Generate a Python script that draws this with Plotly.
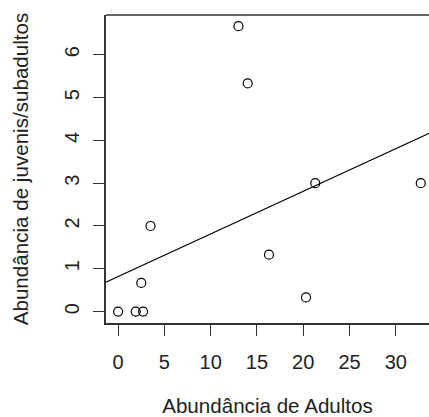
import plotly.graph_objects as go

# Abundance of adults vs. abundance of juveniles/subadults per sample
adultos = [0, 1.9, 2.7, 2.5, 3.5, 13, 14, 16.3, 20.3, 21.3, 32.7]
juvenis = [0, 0, 0, 0.67, 2, 6.67, 5.33, 1.33, 0.33, 3, 3]

# Fitted line (intercept, slope)
intercepto = 0.82
inclinacao = 0.0995

x_ticks = [0, 5, 10, 15, 20, 25, 30]
y_ticks = [0, 1, 2, 3, 4, 5, 6]

FONT = "Liberation Sans, Arial, sans-serif"

line_x = [-5, 40]
line_y = [intercepto + inclinacao * v for v in line_x]

fig = go.Figure()
fig.add_trace(go.Scatter(
    x=line_x, y=line_y, mode="lines",
    line=dict(color="black", width=1.2),
    hoverinfo="skip",
))
fig.add_trace(go.Scatter(
    x=adultos, y=juvenis, mode="markers",
    marker=dict(symbol="circle-open", size=9, color="black", line=dict(width=1.2)),
))

axis_common = dict(
    showgrid=False, zeroline=False,
    showline=True, linecolor="#333333", linewidth=1.5,
    ticks="outside", ticklen=11, tickwidth=1.3, tickcolor="#333333",
    tickfont=dict(family=FONT, size=20, color="#222222"),
    title_font=dict(family=FONT, size=20.6, color="#222222"),
)

fig.update_layout(
    width=429, height=417,
    margin=dict(l=106, r=0, t=15, b=94),
    plot_bgcolor="white", paper_bgcolor="white",
    showlegend=False,
    xaxis=dict(
        range=[-1.31, 33.59], tickvals=x_ticks,
        title=dict(text="Abundância de Adultos", standoff=27),
        ticklabelstandoff=9,
        **axis_common,
    ),
    yaxis=dict(
        range=[-0.267, 6.93], tickvals=y_ticks, tickangle=-90,
        title=dict(text="Abundância de juvenis/subadultos", standoff=27),
        ticklabelstandoff=6,
        **axis_common,
    ),
    shapes=[dict(
        type="line", xref="paper", yref="paper", x0=0, x1=1, y0=1, y1=1,
        line=dict(color="#333333", width=1.5),
    )],
)

fig.write_html("out.html")
